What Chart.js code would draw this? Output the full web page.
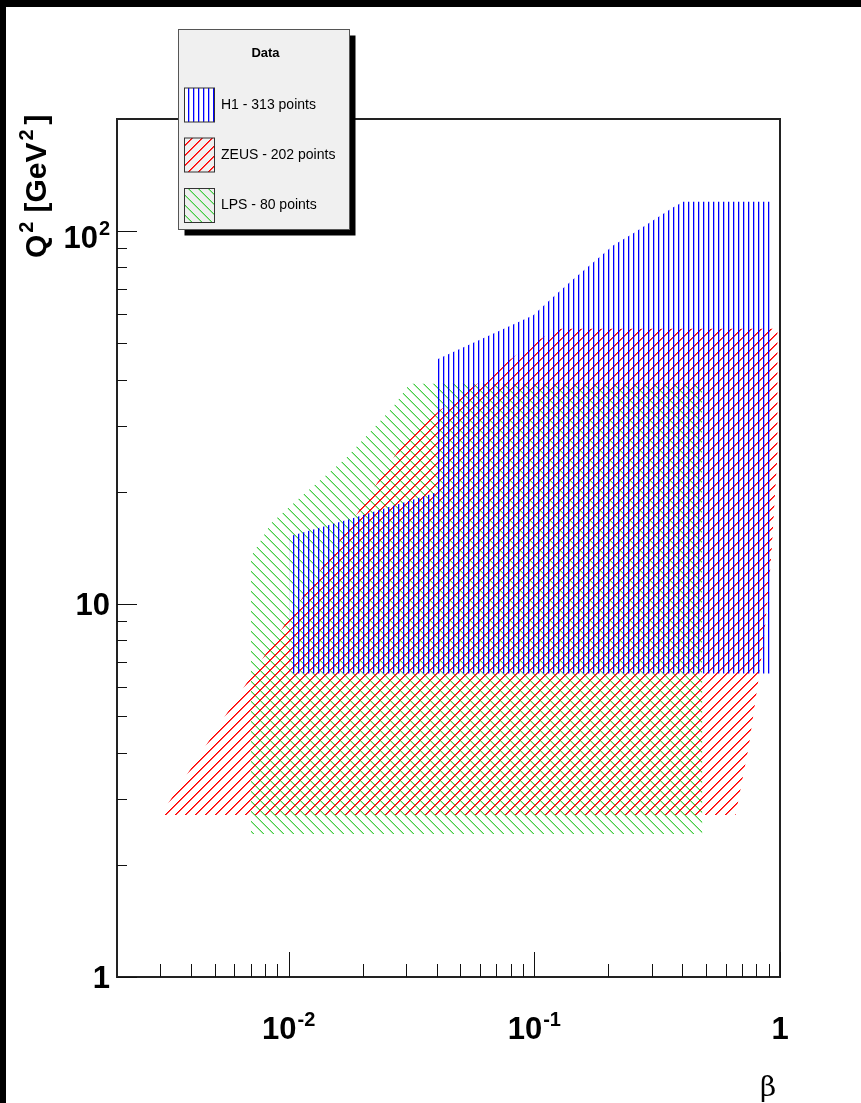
<!DOCTYPE html>
<html>
<head>
<meta charset="utf-8">
<script src="https://cdn.jsdelivr.net/npm/chart.js@4.4.1/dist/chart.umd.min.js"></script>
<style>
  html, body { margin: 0; padding: 0; background: #fff; }
  #wrap { width: 861px; height: 1103px; position: relative; }
</style>
</head>
<body>
<div id="wrap"><canvas id="c"></canvas></div>
<script>
// Kinematic coverage of the diffractive DIS data sets in the (beta, Q^2) plane.
// Each region is a closed outline; edges are straight in log-log space.
const h1Beta = [0.0101, 0.0182, 0.0266, 0.0395, 0.0395, 0.0990, 0.119, 0.144, 0.174, 0.210, 0.253, 0.305, 0.368, 0.404, 0.91, 0.91, 0.0101, 0.0101];
const h1Q2   = [15.2,   17.0,   18.35,  19.9,   45.1,   59.5,   66.5,  74.3,  82.6,  91.7,  98.8,  107,   116,   120,   120,  6.52, 6.52,   15.2];

const zeusBeta = [0.00301, 0.0086, 0.0292, 0.0412, 0.0589, 0.0960, 0.125, 0.976, 0.976, 0.951, 0.925, 0.891, 0.858, 0.820, 0.746, 0.659, 0.00301];
const zeusQ2   = [2.72,    7.85,   27.0,   33.1,   39.1,   49.5,   54.8,  54.8,  25.0,  19.0,  14.0,  10.2,  8.0,   6.38,  4.15,  2.72,  2.72];

const lpsBeta = [0.00702, 0.00702, 0.0085, 0.0114, 0.0171, 0.0266, 0.0311, 0.482, 0.482, 0.00702];
const lpsQ2   = [2.42,    13.4,    16.5,   19.6,   24.6,   33.8,   39.0,   39.0,  2.42,  2.42];

const seriesLabels = ['H1 - 313 points', 'ZEUS - 202 points', 'LPS - 80 points'];
const legendTitle = 'Data';

// Axis ticks and labels
const xMajorTicks = [0.01, 0.1, 1];
const xMinorTicks = [0.003, 0.004, 0.005, 0.006, 0.007, 0.008, 0.009,
                     0.02, 0.03, 0.04, 0.05, 0.06, 0.07, 0.08, 0.09,
                     0.2, 0.3, 0.4, 0.5, 0.6, 0.7, 0.8, 0.9];
const xTickBase = ['10', '10', '1'];
const xTickExp  = ['-2', '-1', ''];
const yMajorTicks = [1, 10, 100];
const yMinorTicks = [2, 3, 4, 5, 6, 7, 8, 9, 20, 30, 40, 50, 60, 70, 80, 90];
const yTickBase = ['1', '10', '10'];
const yTickExp  = ['', '', '2'];
const xTitle = 'β';

const canvas = document.getElementById('c');
const ctx0 = canvas.getContext('2d');

// Hatch fills built pixel by pixel: vertical lines, forward and back diagonals
function hatch(kind, rgb, softAlpha) {
  const s = kind === 'v' ? 5 : 10;
  const t = document.createElement('canvas');
  t.width = s; t.height = s;
  const g = t.getContext('2d');
  const solid = 'rgb(' + rgb + ')';
  const soft = 'rgba(' + rgb + ',' + softAlpha + ')';
  if (kind === 'v') {
    g.fillStyle = soft;
    g.fillRect(4, 0, 1, s);
    g.fillStyle = solid;
    g.fillRect(3, 0, 1, s);
  } else {
    for (let i = 0; i < s; i++) {
      const yMain = kind === '/' ? s - 1 - i : i;
      const ySoft = kind === '/' ? (s - i) % s : (i + 1) % s;
      g.fillStyle = soft;
      g.fillRect(i, ySoft, 1, 1);
      g.fillStyle = solid;
      g.fillRect(i, yMain, 1, 1);
    }
  }
  return ctx0.createPattern(t, 'repeat');
}

const h1Fill = hatch('v', '0,0,255', 0.3);
const zeusFill = hatch('/', '255,0,0', 0.75);
const lpsFill = hatch('\\', '70,205,70', 0.45);

const toPoints = (xs, ys) => xs.map((x, i) => ({ x: x, y: ys[i] }));

function region(label, xs, ys, pattern, order) {
  return {
    label: label,
    data: toPoints(xs, ys),
    backgroundColor: pattern,
    borderColor: 'rgba(0,0,0,0)',
    borderWidth: 0,
    pointRadius: 0,
    pointHoverRadius: 0,
    tension: 0,
    fill: 'shape',
    order: order
  };
}

const FONT = '"Liberation Sans", Arial, sans-serif';

function drawSup(ctx, base, sup, x, y, size, align) {
  const bf = 'bold ' + size + 'px ' + FONT;
  const ss = Math.round(size * 0.66);
  const sf = 'bold ' + ss + 'px ' + FONT;
  ctx.font = bf;
  const wb = ctx.measureText(base).width;
  ctx.font = sf;
  const ws = sup ? ctx.measureText(sup).width + 1 : 0;
  const w = wb + ws;
  let x0 = x;
  if (align === 'center') x0 = x - w / 2;
  else if (align === 'right') x0 = x - w;
  ctx.textAlign = 'left';
  ctx.textBaseline = 'alphabetic';
  ctx.font = bf;
  ctx.fillText(base, x0, y);
  if (sup) {
    ctx.font = sf;
    ctx.fillText(sup, x0 + wb + 1, y - size * 0.42);
  }
}

const framePlugin = {
  id: 'frame',
  beforeDraw(chart) {
    const ctx = chart.ctx;
    ctx.save();
    ctx.fillStyle = '#ffffff';
    ctx.fillRect(0, 0, chart.width, chart.height);
    ctx.fillStyle = '#000000';
    ctx.fillRect(0, 0, chart.width, 7);
    ctx.fillRect(0, 0, 6, chart.height);
    ctx.restore();
  },
  afterDatasetsDraw(chart) {
    const ctx = chart.ctx;
    const a = chart.chartArea;
    const xs = chart.scales.x, ys = chart.scales.y;
    ctx.save();

    // frame
    ctx.strokeStyle = '#222';
    ctx.lineWidth = 2;
    ctx.strokeRect(Math.round(a.left), Math.round(a.top), Math.round(a.right - a.left), Math.round(a.bottom - a.top));

    // tick marks point into the frame
    ctx.strokeStyle = '#111';
    ctx.lineWidth = 1;
    ctx.beginPath();
    const xTick = (v, len) => {
      const px = Math.round(xs.getPixelForValue(v)) + 0.5;
      ctx.moveTo(px, a.bottom); ctx.lineTo(px, a.bottom - len);
    };
    const yTick = (v, len) => {
      const py = Math.round(ys.getPixelForValue(v)) + 0.5;
      ctx.moveTo(a.left, py); ctx.lineTo(a.left + len, py);
    };
    xMajorTicks.forEach(v => xTick(v, 25));
    xMinorTicks.forEach(v => xTick(v, 13));
    yMajorTicks.forEach(v => yTick(v, 20));
    yMinorTicks.forEach(v => yTick(v, 10));
    ctx.stroke();

    // tick labels
    ctx.fillStyle = '#000';
    const fs = 31;
    xMajorTicks.forEach((v, i) => {
      drawSup(ctx, xTickBase[i], xTickExp[i], xs.getPixelForValue(v), 1039, fs, 'center');
    });
    yMajorTicks.forEach((v, i) => {
      const py = ys.getPixelForValue(v) + fs * 0.36 + (yTickExp[i] ? 6 : 0);
      drawSup(ctx, yTickBase[i], yTickExp[i], 110, py, fs, 'right');
    });

    // axis titles
    ctx.font = '28px "DejaVu Serif", "Liberation Serif", serif';
    ctx.textAlign = 'center';
    ctx.textBaseline = 'alphabetic';
    ctx.fillText(xTitle, 768, 1096);

    ctx.save();
    ctx.translate(46, 258);
    ctx.rotate(-Math.PI / 2);
    const tfs = 30;
    const parts = [['Q', false, 0], ['2', true, 4], ['[GeV', false, 0], ['2', true, 2], [']', false, 0]];
    let cx = 0;
    parts.forEach(([t, sup, gap]) => {
      ctx.font = 'bold ' + (sup ? Math.round(tfs * 0.66) : tfs) + 'px ' + FONT;
      ctx.textAlign = 'left';
      ctx.fillText(t, cx + (sup ? 2 : 0), sup ? -tfs * 0.45 : 0);
      cx += ctx.measureText(t).width + (sup ? 3 : 0) + gap * 2;
    });
    ctx.restore();

    // legend box with drop shadow
    const L = { x: 178.5, y: 29.5, w: 171, h: 200 };
    ctx.fillStyle = '#000';
    ctx.fillRect(L.x + 6, L.y + 6, L.w, L.h);
    ctx.fillStyle = '#f0f0f0';
    ctx.fillRect(L.x, L.y, L.w, L.h);
    ctx.strokeStyle = '#555';
    ctx.lineWidth = 1;
    ctx.strokeRect(L.x, L.y, L.w, L.h);

    ctx.fillStyle = '#000';
    ctx.font = 'bold 13px ' + FONT;
    ctx.textAlign = 'center';
    ctx.textBaseline = 'middle';
    ctx.fillText(legendTitle, 265.5, 53);

    const rows = [88, 138, 188.5];
    const swatchBg = ['#ffffff', '#f0f0f0', '#f0f0f0'];
    chart.data.datasets.forEach((ds, i) => {
      const sy = rows[i];
      ctx.fillStyle = swatchBg[i];
      ctx.fillRect(184.5, sy, 30, 34);
      ctx.fillStyle = ds.backgroundColor;
      ctx.fillRect(184.5, sy, 30, 34);
      ctx.strokeStyle = '#333';
      ctx.strokeRect(184.5, sy, 30, 34);
      ctx.fillStyle = '#000';
      ctx.font = '14px ' + FONT;
      ctx.textAlign = 'left';
      ctx.textBaseline = 'middle';
      ctx.fillText(ds.label, 221, sy + 17);
    });

    ctx.restore();
  }
};

new Chart(canvas, {
  type: 'line',
  data: {
    datasets: [
      region(seriesLabels[0], h1Beta, h1Q2, h1Fill, 1),
      region(seriesLabels[1], zeusBeta, zeusQ2, zeusFill, 2),
      region(seriesLabels[2], lpsBeta, lpsQ2, lpsFill, 3)
    ]
  },
  options: {
    responsive: true,
    maintainAspectRatio: false,
    animation: false,
    events: [],
    layout: { padding: { left: 117, top: 119, right: 81, bottom: 126 } },
    plugins: {
      legend: { display: false },
      tooltip: { enabled: false },
      filler: { propagate: false }
    },
    scales: {
      x: { type: 'logarithmic', min: 0.002, max: 1, display: false },
      y: { type: 'logarithmic', min: 1, max: 200, display: false }
    }
  },
  plugins: [framePlugin]
});
</script>
</body>
</html>
